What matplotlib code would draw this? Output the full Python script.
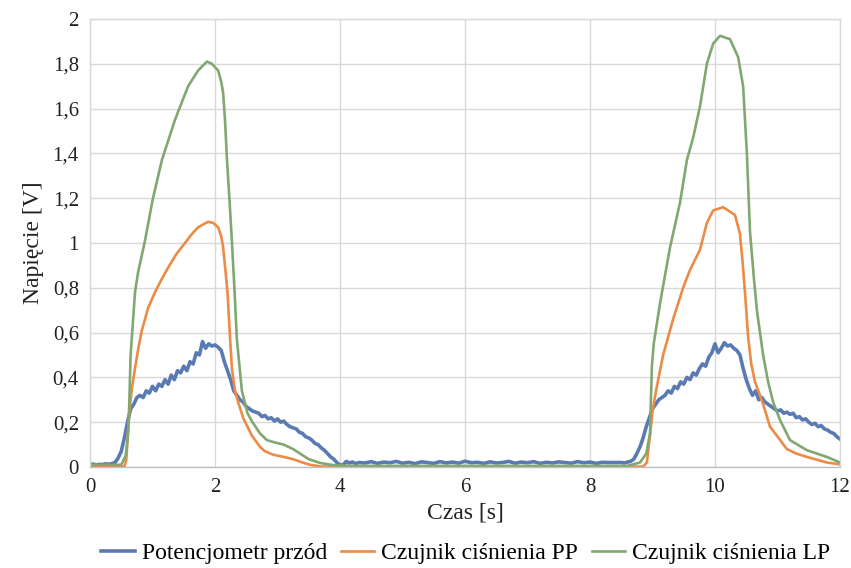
import numpy as np
import matplotlib
matplotlib.use("Agg")
import matplotlib.pyplot as plt
from matplotlib.ticker import FuncFormatter, MultipleLocator

plt.rcParams['font.family'] = ['Liberation Serif', 'DejaVu Serif']

series_names = ["Potencjometr przód", "Czujnik ciśnienia PP", "Czujnik ciśnienia LP"]

# ---- Potencjometr przód (blue) ----
blue_v_start = [0.010, 0.013, 0.009, 0.012, 0.011, 0.014]          # t = 0.00 .. 0.25 step 0.05
blue_v_cycle1 = [0.012, 0.015, 0.020, 0.040, 0.070, 0.130, 0.200, 0.260, 0.280, 0.310,
                 0.320, 0.310, 0.340, 0.330, 0.360, 0.340, 0.370, 0.360, 0.390, 0.370,
                 0.410, 0.390, 0.430, 0.420, 0.450, 0.430, 0.470, 0.460, 0.510, 0.500,
                 0.560, 0.530, 0.550, 0.540, 0.545, 0.535, 0.520, 0.470, 0.430, 0.390,
                 0.340, 0.320, 0.300, 0.290, 0.270, 0.260, 0.250, 0.245, 0.240, 0.225,
                 0.230, 0.215, 0.220, 0.205, 0.215, 0.200, 0.205, 0.190, 0.180, 0.175,
                 0.170, 0.155, 0.150, 0.135, 0.130, 0.120, 0.105, 0.100, 0.085, 0.075,
                 0.060, 0.045, 0.035, 0.020, 0.008, 0.010, 0.025, 0.018, 0.022, 0.015,
                 0.020]                                               # t = 0.30 .. 4.30 step 0.05
blue_v_base = [0.018, 0.024, 0.016, 0.022, 0.019, 0.025, 0.017, 0.021, 0.015, 0.023,
               0.020, 0.016, 0.024, 0.018, 0.022, 0.017, 0.026, 0.019, 0.021, 0.016,
               0.023, 0.018, 0.020, 0.025, 0.017, 0.022, 0.019, 0.024, 0.016, 0.021,
               0.018, 0.023, 0.020, 0.017, 0.024, 0.019, 0.022, 0.016, 0.021, 0.020]  # t = 4.40 .. 8.30 step 0.1
blue_v_cycle2 = [0.020, 0.018, 0.022, 0.025, 0.035, 0.060, 0.090, 0.130, 0.180, 0.220,
                 0.260, 0.280, 0.300, 0.310, 0.320, 0.340, 0.330, 0.360, 0.350, 0.380,
                 0.370, 0.400, 0.390, 0.420, 0.410, 0.440, 0.460, 0.450, 0.490, 0.510,
                 0.550, 0.510, 0.530, 0.555, 0.540, 0.545, 0.530, 0.520, 0.500, 0.440,
                 0.390, 0.350, 0.320, 0.340, 0.300, 0.310, 0.290, 0.280, 0.270, 0.260,
                 0.250, 0.255, 0.240, 0.245, 0.235, 0.240, 0.220, 0.225, 0.210, 0.215,
                 0.200, 0.190, 0.195, 0.180, 0.185, 0.170, 0.165, 0.155, 0.150, 0.135,
                 0.125]                                               # t = 8.50 .. 12.00 step 0.05

blue_t = np.concatenate([
    np.arange(len(blue_v_start)) * 0.05,
    0.30 + np.arange(len(blue_v_cycle1)) * 0.05,
    4.40 + np.arange(len(blue_v_base)) * 0.1,
    8.50 + np.arange(len(blue_v_cycle2)) * 0.05,
])
blue_v = np.array(blue_v_start + blue_v_cycle1 + blue_v_base + blue_v_cycle2)

# ---- Czujnik ciśnienia PP (orange) ----
orange_t = [0.00, 0.55, 0.58, 0.60, 0.63, 0.67, 0.72, 0.78, 0.83, 0.93, 1.04, 1.15, 1.25,
            1.38, 1.52, 1.63, 1.73, 1.89, 1.97, 2.05, 2.10, 2.13, 2.17, 2.20, 2.24, 2.27,
            2.32, 2.37, 2.45, 2.52, 2.59, 2.72, 2.80, 2.93, 3.10, 3.25, 3.40, 3.52, 3.70,
            8.60, 8.85, 8.91, 8.96, 9.00, 9.07, 9.17, 9.33, 9.49, 9.60, 9.76, 9.87, 9.97,
            10.13, 10.32, 10.40, 10.44, 10.48, 10.53, 10.58, 10.64, 10.72, 10.77, 10.88,
            10.99, 11.15, 11.30, 11.47, 11.79, 12.00]
orange_v = [0.002, 0.002, 0.03, 0.12, 0.25, 0.35, 0.44, 0.54, 0.61, 0.71, 0.78, 0.84, 0.89,
            0.95, 1.00, 1.04, 1.07, 1.095, 1.09, 1.07, 1.03, 0.98, 0.87, 0.78, 0.58, 0.44,
            0.34, 0.29, 0.22, 0.18, 0.14, 0.09, 0.07, 0.055, 0.045, 0.035, 0.02, 0.01, 0.002,
            0.002, 0.002, 0.02, 0.14, 0.25, 0.36, 0.50, 0.66, 0.80, 0.88, 0.97, 1.09, 1.145,
            1.16, 1.125, 1.04, 0.92, 0.78, 0.58, 0.46, 0.38, 0.32, 0.28, 0.18,
            0.14, 0.08, 0.06, 0.045, 0.02, 0.012]

# ---- Czujnik ciśnienia LP (green) ----
green_t = [0.00, 0.50, 0.57, 0.60, 0.62, 0.65, 0.67, 0.72, 0.77, 0.88, 1.00, 1.15, 1.36,
           1.57, 1.73, 1.87, 1.95, 2.05, 2.10, 2.13, 2.16, 2.19, 2.23, 2.27, 2.31, 2.35,
           2.43, 2.52, 2.60, 2.72, 2.83, 2.95, 3.10, 3.25, 3.36, 3.50, 3.68, 3.90, 4.20,
           8.60, 8.80, 8.90, 8.96, 8.99, 9.02, 9.12, 9.28, 9.44, 9.55, 9.65, 9.76, 9.87,
           9.97, 10.08, 10.24, 10.37, 10.45, 10.51, 10.56, 10.62, 10.67, 10.77, 10.85,
           10.93, 11.04, 11.20, 11.47, 11.79, 12.00]
green_v = [0.010, 0.010, 0.05, 0.12, 0.20, 0.50, 0.58, 0.78, 0.87, 1.01, 1.19, 1.37, 1.55,
           1.70, 1.77, 1.81, 1.80, 1.77, 1.72, 1.67, 1.55, 1.38, 1.20, 1.01, 0.80, 0.57,
           0.34, 0.24, 0.20, 0.15, 0.12, 0.11, 0.10, 0.08, 0.06, 0.035, 0.018, 0.008, 0.005,
           0.005, 0.02, 0.06, 0.15, 0.45, 0.55, 0.73, 0.98, 1.18, 1.37, 1.47, 1.61, 1.80,
           1.89, 1.925, 1.91, 1.83, 1.70, 1.40, 1.05, 0.85, 0.70, 0.50, 0.38,
           0.29, 0.21, 0.12, 0.075, 0.045, 0.02]

colors = ["#5a7ab3", "#ec8b45", "#80a870"]

fig = plt.figure(figsize=(8.51, 5.68), dpi=100)
ax = fig.add_axes([90/851, 1-467/568, 750/851, 448/568])

ax.plot(blue_t, blue_v, color=colors[0], lw=2.6, label=series_names[0], solid_joinstyle='round')
ax.plot(orange_t, orange_v, color=colors[1], lw=1.9, label=series_names[1])
ax.plot(green_t, green_v, color=colors[2], lw=1.9, label=series_names[2])

ax.set_xlim(0, 12)
ax.set_ylim(0, 2)
ax.xaxis.set_major_locator(MultipleLocator(2))
ax.yaxis.set_major_locator(MultipleLocator(0.2))
fmt = FuncFormatter(lambda v, p: f"{v:g}".replace('.', ','))
ax.xaxis.set_major_formatter(fmt)
ax.yaxis.set_major_formatter(fmt)
ax.grid(True, color="#d9d9d9", lw=1.0)
ax.set_axisbelow(True)
for s in ax.spines.values():
    s.set_color("#d9d9d9")
    s.set_linewidth(1.0)
ax.spines['bottom'].set_color("#bfbfbf")
ax.tick_params(length=0, labelsize=15, colors="#222222", pad=8)

ax.set_xlabel("Czas [s]", fontsize=17, color="#222222", labelpad=4)
ax.set_ylabel("Napięcie [V]", fontsize=17, color="#222222", labelpad=6)

fig.legend(loc="center", bbox_to_anchor=(466/851, 1-553/568), ncol=3, frameon=False,
           fontsize=17, handlelength=1.4, columnspacing=0.6, handletextpad=0.3)

fig.savefig("out.png", dpi=100)
